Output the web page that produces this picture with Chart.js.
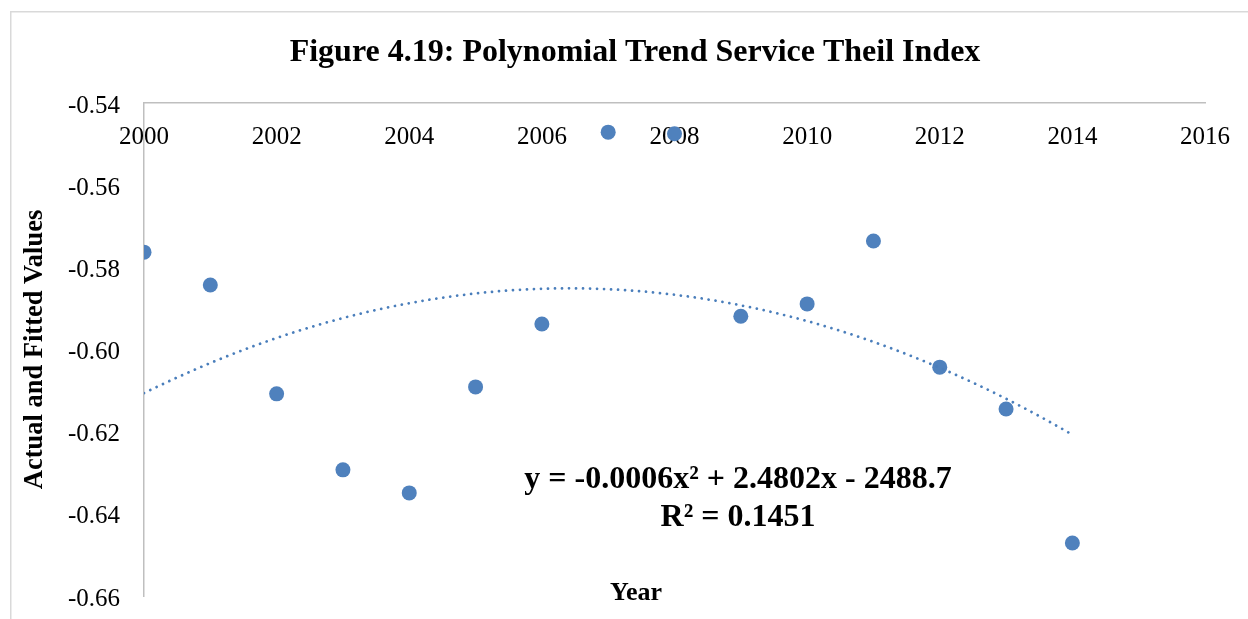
<!DOCTYPE html>
<html>
<head>
<meta charset="utf-8">
<title>Polynomial Trend Service Theil Index</title>
<script src="https://cdn.jsdelivr.net/npm/chart.js@4/dist/chart.umd.min.js"></script>
<style>
  html, body { margin: 0; padding: 0; background: #ffffff; }
  #wrap { width: 1248px; height: 619px; }
</style>
</head>
<body>
<div id="wrap"><canvas id="chart" width="1248" height="619"></canvas></div>
<script>
// Service sector Theil index, by year
const years = [2000, 2001, 2002, 2003, 2004, 2005, 2006, 2007, 2008, 2009, 2010, 2011, 2012, 2013, 2014];
const theilValues = [-0.5763, -0.5843, -0.6108, -0.6293, -0.6349, -0.6091, -0.5938, -0.5471, -0.5475,
                     -0.5919, -0.5889, -0.5736, -0.6043, -0.6145, -0.6471];

// Axis ticks
const yearTicks = [2000, 2002, 2004, 2006, 2008, 2010, 2012, 2014, 2016];
const valueTicks = [-0.66, -0.64, -0.62, -0.60, -0.58, -0.56, -0.54];

// Texts
const chartTitle = 'Figure 4.19: Polynomial Trend Service Theil Index';
const yAxisTitle = 'Actual and Fitted Values';
const xAxisTitle = 'Year';
const equationLines = ['y = -0.0006x\u00B2 + 2.4802x - 2488.7', 'R\u00B2 = 0.1451'];

const SERIF = '"Liberation Serif", "Times New Roman", Times, serif';
const BLUE = '#4f81bd';
const AXIS_GREY = '#bfbfbf';

// Second-order least-squares fit of the series (years centred on the first year)
function quadraticFit(xs, ys) {
  const x0 = xs[0];
  let s0 = 0, s1 = 0, s2 = 0, s3 = 0, s4 = 0, t0 = 0, t1 = 0, t2 = 0;
  xs.forEach((x, i) => {
    const u = x - x0, y = ys[i];
    s0 += 1; s1 += u; s2 += u * u; s3 += u * u * u; s4 += u * u * u * u;
    t0 += y; t1 += u * y; t2 += u * u * y;
  });
  // Solve the 3x3 normal equations with Cramer's rule
  const det = (m) => m[0][0] * (m[1][1] * m[2][2] - m[1][2] * m[2][1])
                   - m[0][1] * (m[1][0] * m[2][2] - m[1][2] * m[2][0])
                   + m[0][2] * (m[1][0] * m[2][1] - m[1][1] * m[2][0]);
  const A = [[s0, s1, s2], [s1, s2, s3], [s2, s3, s4]];
  const B = [t0, t1, t2];
  const D = det(A);
  const coef = [0, 1, 2].map(k => det(A.map((row, r) => row.map((v, c) => (c === k ? B[r] : v)))) / D);
  return (x) => { const u = x - x0; return coef[0] + coef[1] * u + coef[2] * u * u; };
}

const trend = quadraticFit(years, theilValues);
const trendPoints = [];
const first = years[0], last = years[years.length - 1];
for (let i = 0; i <= 140; i++) {
  const x = first + (last - first) * i / 140;
  trendPoints.push({ x: x, y: trend(x) });
}

const scatterPoints = years.map((y, i) => ({ x: y, y: theilValues[i] }));

// Frame, title, equation and x-axis caption
const decorations = {
  id: 'decorations',
  beforeDraw(chart) {
    const ctx = chart.ctx;
    ctx.save();
    ctx.fillStyle = '#ffffff';
    ctx.fillRect(0, 0, chart.width, chart.height);
    ctx.strokeStyle = '#d9d9d9';
    ctx.lineWidth = 1.5;
    ctx.beginPath();
    ctx.moveTo(10.75, chart.height + 2);
    ctx.lineTo(10.75, 11.75);
    ctx.lineTo(chart.width + 2, 11.75);
    ctx.stroke();
    ctx.restore();
  },
  afterDraw(chart) {
    const ctx = chart.ctx;
    ctx.save();
    ctx.fillStyle = '#000000';
    ctx.textAlign = 'center';
    ctx.textBaseline = 'alphabetic';

    ctx.font = 'bold 32px ' + SERIF;
    ctx.fillText(chartTitle, 635, 61);

    ctx.font = 'bold 32px ' + SERIF;
    ctx.fillText(equationLines[0], 738, 488);
    ctx.fillText(equationLines[1], 738, 526);

    ctx.font = 'bold 26px ' + SERIF;
    ctx.fillText(xAxisTitle, 636, 600);
    ctx.restore();
  }
};

new Chart(document.getElementById('chart'), {
  type: 'scatter',
  data: {
    datasets: [
      {
        label: 'Poly. trend',
        type: 'line',
        data: trendPoints,
        borderColor: '#4a7ebb',
        borderWidth: 2.75,
        borderDash: [0.01, 7],
        borderCapStyle: 'round',
        pointRadius: 0,
        fill: false,
        tension: 0
      },
      {
        label: 'Theil index',
        data: scatterPoints,
        backgroundColor: BLUE,
        borderColor: BLUE,
        borderWidth: 0,
        pointRadius: 7.5,
        pointHoverRadius: 7.5
      }
    ]
  },
  options: {
    responsive: false,
    animation: false,
    devicePixelRatio: 1,
    layout: { padding: { top: 103, left: 11, right: 43, bottom: 23 } },
    plugins: {
      legend: { display: false },
      title: { display: false },
      tooltip: { enabled: false }
    },
    scales: {
      x: {
        type: 'linear',
        position: 'top',
        min: 2000,
        max: 2016,
        afterBuildTicks: (s) => { s.ticks = yearTicks.map(v => ({ value: v })); },
        afterFit: (s) => { s.height = 0; s.paddingLeft = 0; s.paddingRight = 0; },
        grid: { display: true, color: 'rgba(0,0,0,0)', drawTicks: false },
        border: { display: true, color: AXIS_GREY, width: 1.5 },
        ticks: {
          // labels sit just under the axis line, inside the plot
          mirror: true,
          color: '#000000',
          font: { family: SERIF, size: 25 },
          padding: 19,
          maxRotation: 0,
          autoSkip: false,
          callback: (v) => String(v)
        }
      },
      y: {
        type: 'linear',
        position: 'left',
        min: -0.66,
        max: -0.54,
        afterBuildTicks: (s) => { s.ticks = valueTicks.map(v => ({ value: v })); },
        afterFit: (s) => { s.width = 133; s.paddingTop = 0; s.paddingBottom = 0; },
        grid: { display: true, color: 'rgba(0,0,0,0)', drawTicks: false },
        border: { display: true, color: AXIS_GREY, width: 1.5 },
        ticks: {
          color: '#000000',
          font: { family: SERIF, size: 25 },
          padding: 24,
          labelOffset: 3,
          autoSkip: false,
          callback: (v) => v.toFixed(2)
        },
        title: {
          display: true,
          text: yAxisTitle,
          color: '#000000',
          font: { family: SERIF, size: 26.5, weight: 'bold' },
          padding: { top: 8, bottom: 0 }
        }
      }
    }
  },
  plugins: [decorations]
});
</script>
</body>
</html>
